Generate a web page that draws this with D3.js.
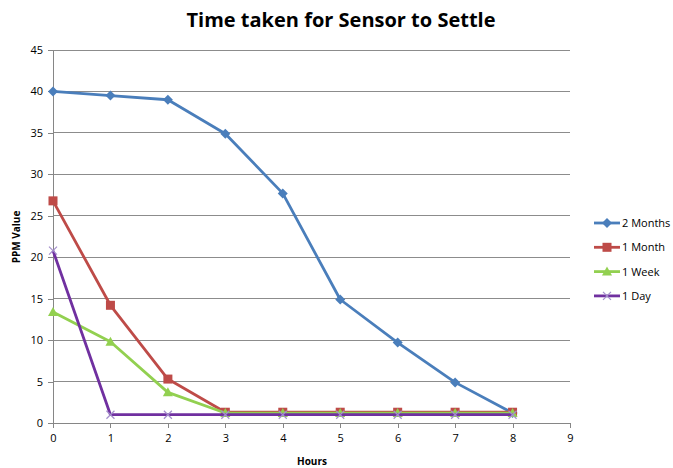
<!DOCTYPE html>
<html><head><meta charset="utf-8">
<script src="https://cdn.jsdelivr.net/npm/d3@7"></script>
<style>body{margin:0;background:#fff;} svg{display:block;}</style>
</head><body>
<svg id="c" width="673" height="468"></svg>
<script>
const hours = [0,1,2,3,4,5,6,7,8];
const seriesNames = ["2 Months","1 Month","1 Week","1 Day"];
const twoMonths = [40,39.5,39,34.9,27.7,14.9,9.7,4.9,1.2];
const oneMonth = [26.8,14.2,5.3,1.3,1.3,1.3,1.3,1.3,1.3];
const oneWeek = [13.4,9.8,3.7,1.2,1.2,1.2,1.2,1.2,1.2];
const oneDay = [20.8,1.0,1.0,1.0,1.0,1.0,1.0,1.0,1.0];
const xTicks = [0,1,2,3,4,5,6,7,8,9];
const yTicks = [0,5,10,15,20,25,30,35,40,45];
const colors = ["#4a7ebb","#be4b48","#92d050","#7030a0"];
const markers = ["diamond","square","triangle","x"];
const allSeries = [twoMonths, oneMonth, oneWeek, oneDay];

const svg = d3.select("#c");
const font = "'Open Sans', 'Liberation Sans', sans-serif";
const x = d3.scaleLinear().domain([0,9]).range([53,570]);
const y = d3.scaleLinear().domain([0,45]).range([423,50]);

svg.append("text").attr("x",341).attr("y",27).attr("text-anchor","middle")
  .attr("font-family",font).attr("font-weight","bold").attr("font-size",20)
  .attr("fill","#000").text("Time taken for Sensor to Settle");

// gridlines
svg.append("g").selectAll("line").data(yTicks.filter(d=>d>0)).join("line")
  .attr("x1",x(0)).attr("x2",x(9)).attr("y1",d=>y(d)).attr("y2",d=>y(d))
  .attr("stroke","#8c8c8c").attr("stroke-width",1).attr("shape-rendering","crispEdges");

const yAxis = svg.append("g").attr("transform",`translate(${x(0)},0)`)
  .call(d3.axisLeft(y).tickValues(yTicks).tickSize(5).tickPadding(5).tickSizeOuter(0));
const xAxis = svg.append("g").attr("transform",`translate(0,${y(0)})`)
  .call(d3.axisBottom(x).tickValues(xTicks).tickSize(5).tickPadding(6).tickSizeOuter(0));
[yAxis,xAxis].forEach(a=>{
  a.selectAll("path,line").attr("stroke","#868686").attr("shape-rendering","crispEdges");
  a.selectAll("text").attr("font-family",font).attr("font-size",11).attr("fill","#000");
});

svg.append("text").attr("x",312).attr("y",465).attr("text-anchor","middle")
  .attr("font-family",font).attr("font-weight","bold").attr("font-size",10).text("Hours");
svg.append("text").attr("transform","translate(20,237) rotate(-90)").attr("text-anchor","middle")
  .attr("font-family",font).attr("font-weight","bold").attr("font-size",10).text("PPM Value");

function drawMarker(g, type, cx, cy, color){
  if(type==="diamond"){
    g.append("path").attr("d",`M${cx},${cy-5}L${cx+5},${cy}L${cx},${cy+5}L${cx-5},${cy}Z`).attr("fill",color);
  } else if(type==="square"){
    g.append("rect").attr("x",cx-4.5).attr("y",cy-4.5).attr("width",9).attr("height",9).attr("fill",color);
  } else if(type==="triangle"){
    g.append("path").attr("d",`M${cx},${cy-5}L${cx+5},${cy+4}L${cx-5},${cy+4}Z`).attr("fill",color);
  } else {
    g.append("path").attr("d",`M${cx-4},${cy-4}L${cx+4},${cy+4}M${cx-4},${cy+4}L${cx+4},${cy-4}`)
      .attr("stroke","#a48fcc").attr("stroke-width",1.2).attr("fill","none");
  }
}

const line = d3.line().x((d,i)=>x(hours[i])).y(d=>y(d));
allSeries.forEach((s,k)=>{
  const g = svg.append("g");
  g.append("path").attr("d",line(s)).attr("fill","none").attr("stroke",colors[k])
    .attr("stroke-width",2.8).attr("stroke-linejoin","round");
  s.forEach((v,i)=>drawMarker(g, markers[k], x(hours[i]), y(v), colors[k]));
});

// legend
const lg = svg.append("g");
seriesNames.forEach((n,k)=>{
  const yy = 223 + k*24.3;
  lg.append("line").attr("x1",594).attr("x2",620).attr("y1",yy).attr("y2",yy)
    .attr("stroke",colors[k]).attr("stroke-width",2.8);
  drawMarker(lg, markers[k], 607, yy, colors[k]);
  lg.append("text").attr("x",622).attr("y",yy+4).attr("font-family",font)
    .attr("font-size",11).attr("fill","#000").text(n);
});
</script>
</body></html>
